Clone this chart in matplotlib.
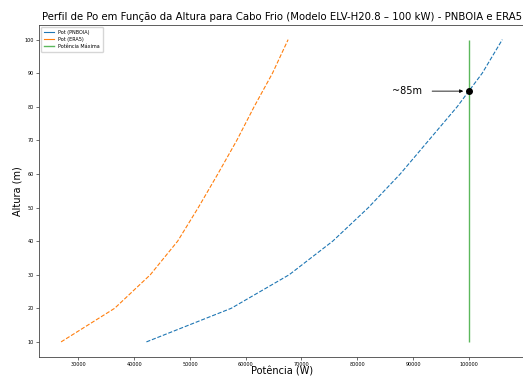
import numpy as np
import matplotlib
matplotlib.use('Agg')
import matplotlib.pyplot as plt
from matplotlib.lines import Line2D

# alturas (m) e potencia estimada (W)
alturas = [10, 20, 30, 40, 50, 60, 70, 80, 90, 100]
pot_pnboia = [42200, 57400, 67800, 75600, 82000, 87700, 92800, 97900, 102400, 106000]
pot_era5 = [26900, 36500, 42900, 47800, 51500, 55000, 58400, 61500, 64800, 67600]
pot_max = 100000
rotulo_cruz = '~85m'

fig = plt.figure(figsize=(5.23, 3.76), dpi=100)
ax = fig.add_axes([0.0746, 0.0505, 0.928, 0.8843])

ax.plot(pot_pnboia, alturas, '--', color='tab:blue', lw=0.8)
ax.plot(pot_era5, alturas, '--', color='tab:orange', lw=0.8)
ax.vlines(pot_max, min(alturas), max(alturas), color='#5cb85c', lw=1.0)

# altura em que a curva PNBOIA cruza a potencia maxima
h_cruz = np.interp(pot_max, pot_pnboia, alturas)
ax.plot(pot_max, h_cruz, 'o', color='black', ms=4, zorder=5)
ax.annotate(rotulo_cruz, xy=(pot_max, h_cruz), xytext=(86300, h_cruz),
            va='center', ha='left', fontsize=7,
            arrowprops=dict(arrowstyle='-|>', color='black', lw=0.6,
                            mutation_scale=5, shrinkA=5, shrinkB=4))

handles = [Line2D([], [], color='tab:blue', lw=0.8),
           Line2D([], [], color='tab:orange', lw=0.8),
           Line2D([], [], color='#5cb85c', lw=1.0)]
ax.legend(handles, ['Pot (PNBOIA)', 'Pot (ERA5)', 'Potência Máxima'],
          loc='upper left', fontsize=3.5, frameon=True, borderpad=0.6,
          labelspacing=0.4)

ax.set_title('Perfil de Po em Função da Altura para Cabo Frio (Modelo ELV-H20.8 – 100 kW) - PNBOIA e ERA5',
             fontsize=7.25, pad=3)
ax.set_xlabel('Potência (W)', fontsize=7, labelpad=-0.5)
ax.set_ylabel('Altura (m)', fontsize=7, labelpad=2)
ax.set_xticks([30000, 40000, 50000, 60000, 70000, 80000, 90000, 100000])
ax.set_yticks(alturas)
ax.tick_params(labelsize=3.5, length=2, width=0.4, pad=1.5)
for s in ax.spines.values():
    s.set_linewidth(0.6)
    s.set_color('#444444')

fig.savefig('out.png', dpi=100)
